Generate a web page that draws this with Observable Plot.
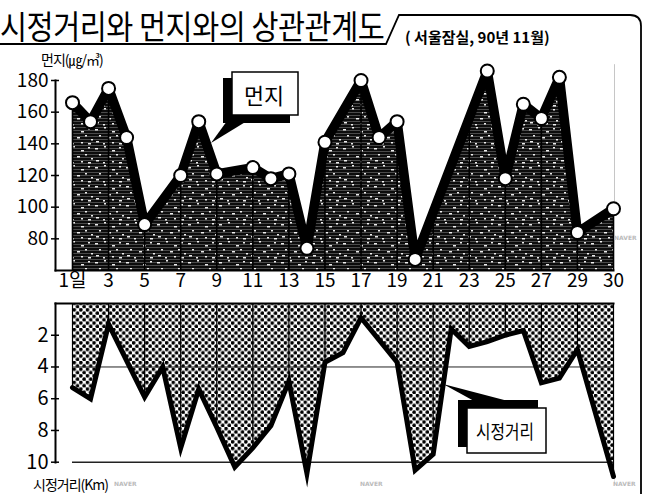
<!DOCTYPE html>
<html><head><meta charset="utf-8">
<script src="https://cdn.jsdelivr.net/npm/d3@7"></script>
<script src="https://cdn.jsdelivr.net/npm/@observablehq/plot@0.6"></script>
<style>
body{margin:0;background:#fff;}
#root{position:relative;width:647px;height:494px;overflow:hidden;font-family:"Noto Sans CJK KR","Noto Sans",sans-serif;color:#000;}
#title{position:absolute;left:0px;top:5px;font-size:33px;line-height:40px;white-space:nowrap;transform:scaleX(0.89);transform-origin:0 0;letter-spacing:-0.5px;}
#subtitle{position:absolute;left:405px;top:26px;font-size:15px;font-weight:bold;white-space:nowrap;letter-spacing:0px;}
#ylab1{position:absolute;left:41px;top:49px;font-size:14px;white-space:nowrap;letter-spacing:-1px;z-index:5;}
#ylab2{position:absolute;left:33px;top:474px;font-size:14px;white-space:nowrap;letter-spacing:-1px;z-index:5;}
.abs{position:absolute;left:0;z-index:1;}
</style></head><body><div id="root">
<div id="title">시정거리와 먼지와의 상관관계도</div>
<div id="subtitle">( 서울잠실, 90년 11월)</div>
<div id="ylab1">먼지(㎍/㎥)</div>
<div id="ylab2">시정거리(Km)</div>
</div>
<script>
// ---- data ----
const dustDays   = [1,2,3,4,5,7,8,9,11,12,13,14,15,17,18,19,20,24,25,26,27,28,29,30];
const dustValues = [166,154,175,144,89,120,154,121,125,118,121,74,141,180,144,154,67,186,118,165,156,182,84,99];
const visDays    = [1,2,3,4,5,6,7,8,9,10,11,12,13,14,15,16,17,18,19,20,21,22,23,24,25,26,27,28,29,30];
const visValues  = [5.3,6.0,1.3,3.6,5.9,4.0,9.1,5.4,7.8,10.3,9.1,7.7,4.9,10.7,3.7,3.1,0.9,2.3,3.7,10.5,9.5,1.6,2.7,2.4,2.0,1.7,5.0,4.7,2.9,10.9];
const xTickDays   = [1,3,5,7,9,11,13,15,17,19,21,23,25,27,29,30];
const xTickLabels = ["1일","3","5","7","9","11","13","15","17","19","21","23","25","27","29","30"];
const dustTicks = [80,100,120,140,160,180];
const visTicks  = [2,4,6,8,10];
const visGrid   = [4,10];

const dust = dustDays.map((d,i)=>({day:d, v:dustValues[i]}));
const vis  = visDays.map((d,i)=>({day:d, v:visValues[i]}));
const FONT = "Noto Sans CJK KR, Noto Sans, sans-serif";
// the original drawing gives the last day (30) a double-width step, as if it were day 31
const xScale = {domain:[1,31], range:[72,613], transform:d => d >= 30 ? d + 1 : d, axis:null};

const root = document.getElementById("root");

// ---- top panel: dust ----
const topPlot = Plot.plot({
  width:647, height:250,
  marginLeft:55, marginRight:34, marginTop:30, marginBottom:30,
  x: xScale,
  y: {domain:[60,180], axis:null},
  style:{background:"none", overflow:"visible"},
  marks:[
    Plot.areaY(dust,{x:"day", y1:60, y2:"v", fill:"url(#hatch)"}),
    Plot.areaY(dust,{x:"day", y1:60, y2:"v", fill:"url(#specks)"}),
    Plot.ruleX(xTickDays,{x:d=>d, y1:60, y2:190, stroke:"#000", strokeWidth:1.6}),
    Plot.areaY(dust,{x:"day", y1:"v", y2:192, fill:"white", stroke:"white", strokeWidth:2.5}),
    Plot.frame({anchor:"left", strokeWidth:2}),
    Plot.frame({anchor:"bottom", strokeWidth:2}),
    Plot.line(dust,{x:"day", y:"v", stroke:"#000", strokeWidth:9.5, strokeLinejoin:"round"}),
    Plot.dot(dust,{x:"day", y:"v", r:6.5, fill:"white", stroke:"#000", strokeWidth:2}),
    Plot.axisY(dustTicks,{anchor:"left", tickSize:8, dx:4, tickFormat:()=>"", label:null, strokeWidth:1.5}),
    Plot.text(dustTicks,{y:d=>d, frameAnchor:"left", dx:-7, textAnchor:"end", fontSize:19, fontFamily:FONT, fill:"#000"}),
    Plot.text(xTickDays,{x:d=>d, frameAnchor:"bottom", dy:16, text:(d,i)=>xTickLabels[i], fontSize:19, fontFamily:FONT, fill:"#000"})
  ]
});
topPlot.classList.add("abs");
topPlot.style.top = "50px";
d3.select(topPlot).insert("defs",":first-child").html(`
  <pattern id="hatch" patternUnits="userSpaceOnUse" width="4" height="3">
    <rect width="4" height="3" fill="#0c0c0c"/>
    <rect y="2" width="4" height="0.8" fill="#5a5a5a"/>
  </pattern>
  <pattern id="specks" patternUnits="userSpaceOnUse" width="31" height="19">
    <g fill="#fff" opacity="0.92">
      <rect x="2" y="3" width="3" height="1.5"/><rect x="11" y="1" width="2" height="1.5"/>
      <rect x="19" y="5" width="3" height="1.5"/><rect x="26" y="2" width="2" height="1.5"/>
      <rect x="6" y="9" width="2" height="1.5"/><rect x="15" y="11" width="3" height="1.5"/>
      <rect x="23" y="9" width="2" height="1.5"/><rect x="29" y="13" width="2" height="1.5"/>
      <rect x="3" y="15" width="3" height="1.5"/><rect x="10" y="17" width="2" height="1.5"/>
      <rect x="19" y="16" width="2" height="1.5"/><rect x="26" y="17" width="3" height="1.5"/>
    </g>
  </pattern>`);
root.appendChild(topPlot);

// ---- bottom panel: visibility ----
const botPlot = Plot.plot({
  width:647, height:199,
  marginLeft:55, marginRight:34, marginTop:8, marginBottom:32,
  x: xScale,
  y: {domain:[0,10], range:[8,166.7], axis:null},
  style:{background:"none", overflow:"visible"},
  marks:[
    Plot.areaY(vis,{x:"day", y1:0, y2:"v", fill:"url(#dots)"}),
    Plot.ruleX(xTickDays,{x:d=>d, y1:0, y2:11.5, stroke:"#000", strokeWidth:1.2}),
    Plot.areaY(vis,{x:"day", y1:"v", y2:11.8, fill:"white", stroke:"white", strokeWidth:2}),
    Plot.ruleY(visGrid,{y:d=>d, x1:1, x2:30, stroke:"#222", strokeWidth:(d)=>d===10?1.6:1}),
    Plot.frame({anchor:"top", strokeWidth:2}),
    Plot.frame({anchor:"left", strokeWidth:2}),
    Plot.line(vis,{x:"day", y:"v", stroke:"#000", strokeWidth:5, strokeLinejoin:"miter", strokeMiterlimit:8}),
    Plot.axisY(visTicks,{anchor:"left", tickSize:8, dx:4, tickFormat:()=>"", label:null, strokeWidth:1.5}),
    Plot.text(visTicks,{y:d=>d, frameAnchor:"left", dx:-7, textAnchor:"end", fontSize:20, fontFamily:FONT, fill:"#000"})
  ]
});
botPlot.classList.add("abs");
botPlot.style.top = "295px";
d3.select(botPlot).insert("defs",":first-child").html(`
  <pattern id="dots" patternUnits="userSpaceOnUse" width="6.6" height="6.6">
    <rect width="6.6" height="6.6" fill="#fff"/>
    <circle cx="1.65" cy="1.65" r="1.85" fill="#000"/>
    <circle cx="4.95" cy="4.95" r="1.85" fill="#000"/>
  </pattern>`);
root.appendChild(botPlot);

// ---- decorations: frame lines, callouts, watermarks ----
const ns = "http://www.w3.org/2000/svg";
const deco = document.createElementNS(ns,"svg");
deco.setAttribute("width",647); deco.setAttribute("height",494);
deco.setAttribute("class","abs"); deco.style.top="0px"; deco.style.pointerEvents="none";
deco.innerHTML = `
  <path d="M0,44 H386 L399,15 H630 Q641,15 641,26 V494" fill="none" stroke="#000" stroke-width="1.8"/>
  <rect x="223" y="78" width="67" height="45" fill="#000"/>
  <polygon points="227,121 247,121 211,143" fill="#000"/>
  <rect x="232" y="72" width="66" height="43" fill="#fff" stroke="#000" stroke-width="1.5"/>
  <text x="264" y="94" font-size="22" text-anchor="middle" dominant-baseline="central" font-family="${FONT}" textLength="40" lengthAdjust="spacingAndGlyphs">먼지</text>
  <polygon points="443,384 508,401 474,401" fill="#000"/>
  <rect x="458" y="400" width="80" height="47" fill="#000"/>
  <rect x="467" y="408" width="79" height="45" fill="#fff" stroke="#000" stroke-width="1.5"/>
  <text x="505" y="430" font-size="19" text-anchor="middle" dominant-baseline="central" font-family="${FONT}" textLength="58" lengthAdjust="spacingAndGlyphs">시정거리</text>
  <g font-size="6" font-weight="bold" fill="#bbb" font-family="DejaVu Sans, sans-serif">
    <text x="614" y="240">NAVER</text>
    <text x="114" y="486">NAVER</text>
    <text x="360" y="486">NAVER</text>
    <text x="613" y="486">NAVER</text>
  </g>`;
root.appendChild(deco);
</script>
</body></html>
